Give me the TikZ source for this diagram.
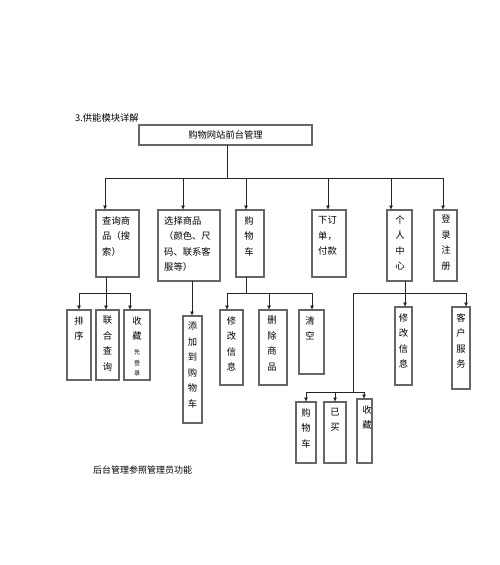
\documentclass[tikz,border=0pt]{standalone}
\usepackage{fontspec}
\newfontfamily\cjk{Noto Sans CJK SC}
\usetikzlibrary{arrows.meta}
\tikzset{
  box/.style={draw=black!60, line width=1.1pt, fill=white, inner sep=0pt, outer sep=0pt, rectangle},
  ln/.style={draw=black!85, line width=0.8pt},
  arr/.style={ln, -{Latex[length=4.5pt,width=4pt]}},
  txt/.style={font=\cjk\fontsize{9.3}{15.5}\selectfont, text=black, inner sep=0pt, anchor=north, align=center},
  txtl/.style={txt, anchor=north west, align=left},
  small/.style={font=\cjk\fontsize{6}{10.5}\selectfont, text=black, inner sep=0pt, anchor=north, align=center}
}
\newcommand{\bx}[5]{\node[box,minimum width={(#4-#2)*1pt},minimum height={(#5-#3)*1pt}] (#1) at ({(#2+#4)/2},{(#3+#5)/2}) {};}
\begin{document}
\begin{tikzpicture}[x=1pt,y=-1pt]
\useasboundingbox[fill=white] (0,0) rectangle (500,565);
% title texts
\node[txt, anchor=west] (title) at (75,118) {3.供能模块详解};
\node[txt, anchor=west, font=\cjk\fontsize{9}{12}\selectfont] (foot) at (93,470) {后台管理参照管理员功能};
% root
\bx{root}{139}{125}{312}{145}
\node[txt, anchor=center] (roott) at (225.5,135) {购物网站前台管理};
% level 1
\bx{q}{96}{210}{139}{277}
\bx{s}{158}{210}{220}{281}
\bx{g}{236}{210}{264}{277}
\bx{x}{312}{210}{346}{277}
\bx{p}{387}{210}{412}{281}
\bx{d}{434}{210}{457}{281}
\node[txtl] (qt) at (102,216) {查询商\\品（搜\\索）};
\node[txtl] (st) at (164,216) {选择商品\\（颜色、尺\\码、联系客\\服等）};
\node[txt] (gt) at (249,216) {购\\物\\车};
\node[txtl] (xt) at (318,216) {下订\\单，\\付款};
\node[txt] (pt) at (400,215) {个\\人\\中\\心};
\node[txt] (dt) at (446,215) {登\\录\\注\\册};
% level 2
\bx{q1}{67}{310}{91}{380}
\bx{q2}{96}{310}{119}{380}
\bx{q3}{124}{310}{150}{380}
\bx{s1}{183}{316}{202}{423}
\bx{g1}{220}{310}{243}{385}
\bx{g2}{259}{310}{287}{385}
\bx{g3}{299}{310}{324}{374}
\bx{p1}{395}{307}{412}{385}
\bx{p2}{452}{307}{470}{389}
\node[txt] (q1t) at (79,316) {排\\序};
\node[txt] (q2t) at (107.5,316) {联\\合\\查\\询};
\node[txt] (q3t) at (137,316) {收\\藏};
\node[small] (q3s) at (137,349.5) {先\\登\\录};
\node[txt] (s1t) at (192.5,322) {添\\加\\到\\购\\物\\车};
\node[txt] (g1t) at (231.5,316) {修\\改\\信\\息};
\node[txt] (g2t) at (272,316) {删\\除\\商\\品};
\node[txt] (g3t) at (310,316) {清\\空};
\node[txt] (p1t) at (403.5,313) {修\\改\\信\\息};
\node[txt] (p2t) at (461,313) {客\\户\\服\\务};
% level 3
\bx{c1}{296}{402}{316}{463}
\bx{c2}{324}{402}{346}{463}
\bx{c3}{357}{399}{372}{463}
\node[txt] (c1t) at (306,408) {购\\物\\车};
\node[txt] (c2t) at (335,408) {已\\买};
\node[txt] (c3t) at (367,405) {收\\藏};
% connectors root
\coordinate (rj) at (227,178);
\coordinate (busL) at (105,178);
\coordinate (busR) at (443,178);
\draw[ln] (root.south -| rj) -- (rj);
\draw[ln] (busL) -- (busR);
\foreach \n/\xx in {q/105,s/183,g/246,x/328,p/391,d/443}{
  \coordinate (t\n) at (\xx,178);
  \draw[arr] (t\n) -- (t\n |- \n.north);
}
% q children
\coordinate (qj) at (106,293);
\coordinate (qL) at (79,293);
\coordinate (qR) at (130,293);
\draw[ln] (q.south -| qj) -- (qj);
\draw[ln] (qL) -- (qR);
\foreach \n/\xx in {q1/79,q2/106,q3/130}{
  \coordinate (t\n) at (\xx,293);
  \draw[arr] (t\n) -- (t\n |- \n.north);
}
% s child
\coordinate (sj) at (192,300);
\draw[arr] (s.south -| sj) -- (sj |- s1.north);
% g children
\coordinate (gj) at (246,293);
\coordinate (gL) at (227,293);
\coordinate (gR) at (312,293);
\draw[ln] (g.south -| gj) -- (gj);
\draw[ln] (gL) -- (gR);
\foreach \n/\xx in {g1/227,g2/269,g3/312}{
  \coordinate (t\n) at (\xx,293);
  \draw[arr] (t\n) -- (t\n |- \n.north);
}
% p children
\coordinate (pj) at (405,293);
\coordinate (pL) at (353,293);
\coordinate (pR) at (466,293);
\draw[ln] (p.south -| pj) -- (pj);
\draw[ln] (pL) -- (pR);
\foreach \n/\xx in {p1/405,p2/466}{
  \coordinate (t\n) at (\xx,293);
  \draw[arr] (t\n) -- (t\n |- \n.north);
}
% collection children
\coordinate (cj) at (355,392);
\coordinate (cL) at (306,392);
\coordinate (cR) at (364,392);
\draw[ln] (pL) -- (pL |- cj) -- (cj);
\draw[ln] (cL) -- (cR);
\foreach \n/\xx in {c1/306,c2/335,c3/364}{
  \coordinate (t\n) at (\xx,392);
  \draw[arr] (t\n) -- (t\n |- \n.north);
}
\end{tikzpicture}
\end{document}
